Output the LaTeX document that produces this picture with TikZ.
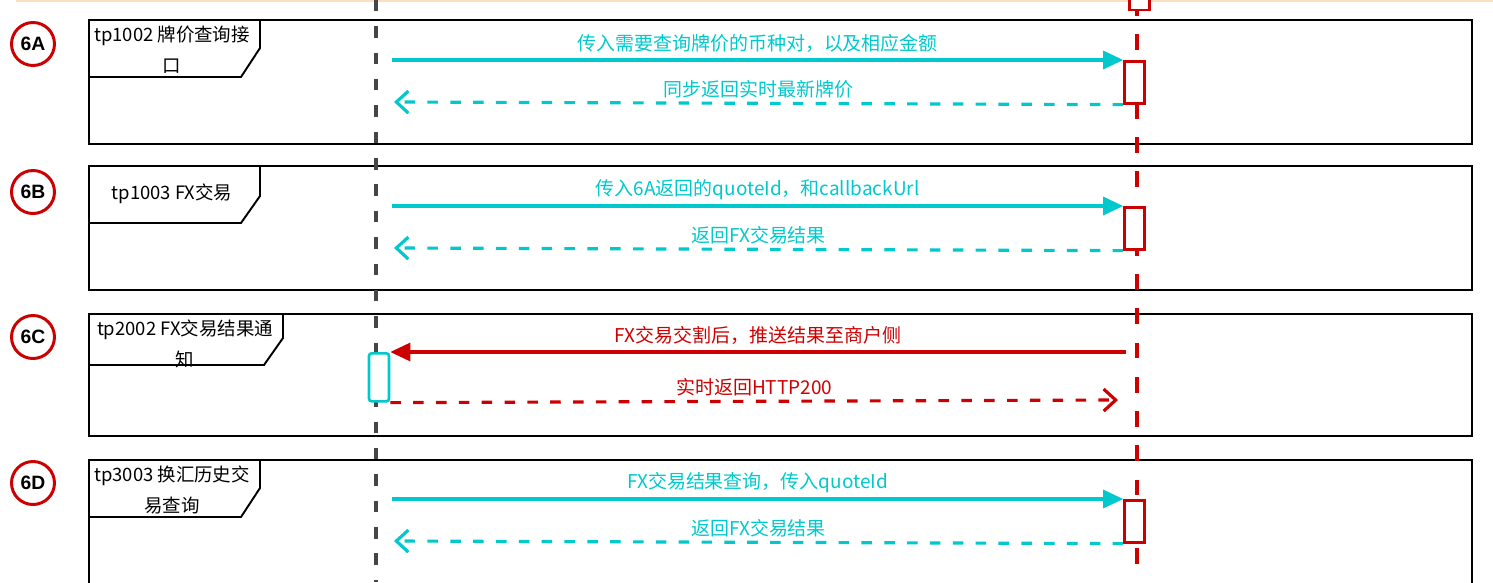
\documentclass[tikz,border=0pt]{standalone}
\usepackage{fontspec}
\setmainfont{Noto Sans CJK SC}
\newfontfamily\numfont{Liberation Sans}
\usetikzlibrary{arrows.meta}
\definecolor{tcyan}{RGB}{0,200,204}
\definecolor{tred}{RGB}{204,0,0}
\definecolor{tgray}{RGB}{70,70,70}
\definecolor{torange}{RGB}{252,222,192}

\begin{document}
\begin{tikzpicture}[x=0.02cm,y=-0.02cm]
%define
\tikzstyle{frame} = [draw=black, line width=1.1pt]
\tikzstyle{title} = [align=center, font=\fontsize{10.5}{17.5}\selectfont, inner sep=0pt]
\tikzstyle{badge} = [circle, draw=tred, line width=1.7pt, minimum size=0.86cm, inner sep=0pt, font=\numfont\bfseries\fontsize{11}{12}\selectfont]
\tikzstyle{actr} = [rectangle, draw=tred, fill=white, line width=1.5pt, minimum width=0.4cm, minimum height=0.84cm, inner sep=0pt]
\tikzstyle{actc} = [actr, draw=tcyan, rounded corners=1.5pt, minimum height=0.96cm]
\tikzstyle{arrow} = [-{Triangle[length=0.4cm,width=0.36cm]}, line width=1.8pt]
\tikzstyle{arrowx} = [-{Straight Barb[length=0.24cm,width=0.44cm]}, line width=1.8pt, dash pattern=on 6pt off 7pt]
\tikzstyle{msg} = [font=\fontsize{10.8}{12}\selectfont, inner sep=0pt, anchor=center, yshift=0.33cm]
\tikzstyle{msgx} = [msg, yshift=-0.04cm]

\clip (0,0) rectangle (1493,582);
\draw[torange, line width=1.2pt] (16,0.5) -- (1493,0.5);

%block1
\draw[frame] (89,20) rectangle (1472,144);
\draw[frame] (89,20) -- (260,20) -- (260,48) -- (241,77) -- (89,77);
\node[title] (t6a) at (172,50) {tp1002 牌价查询接\\口};
\node[badge] (b6a) at (33,44) {6A};
%block2
\draw[frame] (89,166) rectangle (1472,290);
\draw[frame] (89,166) -- (260,166) -- (260,196) -- (241,223) -- (89,223);
\node[title] (t6b) at (172,194) {tp1003 FX交易};
\node[badge] (b6b) at (33,192) {6B};
%block3
\draw[frame] (89,314) rectangle (1472,436);
\draw[frame] (89,314) -- (283,314) -- (283,338) -- (264,365) -- (89,365);
\node[title] (t6c) at (185,344) {tp2002 FX交易结果通\\知};
\node[badge] (b6c) at (33,337) {6C};
%block4
\draw[frame] (89,460) rectangle (1472,600);
\draw[frame] (89,460) -- (260,460) -- (260,488) -- (241,517) -- (89,517);
\node[title] (t6d) at (172,490) {tp3003 换汇历史交\\易查询};
\node[badge] (b6d) at (33,483) {6D};

%lifelines
\coordinate (mtop) at (376,0);
\coordinate (mbot) at (376,582);
\coordinate (ptop) at (1137,0);
\coordinate (pbot) at (1137,582);
\draw[tgray, line width=2pt, dash pattern=on 6.5pt off 8.5pt] (mtop) -- (mbot);
\draw[tred, line width=2.3pt, dash pattern=on 9pt off 10.5pt] (ptop) -- (pbot);

\node[actr] (a0) at (1139.5,-11) {};
\node[actr, anchor=north] (a6a) at (1134.5,60) {};
\node[actr, anchor=north] (a6b) at (1134.5,206) {};
\node[actc, anchor=north] (a6c) at (379,352) {};
\node[actr, anchor=north] (a6d) at (1134.5,499) {};

%line
\coordinate (s6a) at (392,60);
\coordinate (r6a) at (394,102);
\draw[arrow, tcyan] (s6a) -- (a6a.north west) node[msg, midway] {传入需要查询牌价的币种对，以及相应金额};
\draw[arrowx, tcyan] (a6a.south west) -- (r6a) node[msgx, midway] {同步返回实时最新牌价};

\coordinate (s6b) at (392,206);
\coordinate (r6b) at (394,248);
\draw[arrow, tcyan] (s6b) -- (a6b.north west) node[msg, midway] {传入6A返回的quoteId，和callbackUrl};
\draw[arrowx, tcyan] (a6b.south west) -- (r6b) node[msgx, midway] {返回FX交易结果};

\coordinate (s6c) at (1126,352);
\coordinate (r6c) at (1118,400);
\draw[arrow, tred] (s6c) -- (a6c.north east) node[msg, midway] {FX交易交割后，推送结果至商户侧};
\draw[arrowx, tred] (a6c.south east) -- (r6c) node[msgx, midway] {实时返回HTTP200};

\coordinate (s6d) at (392,499);
\coordinate (r6d) at (394,541);
\draw[arrow, tcyan] (s6d) -- (a6d.north west) node[msg, midway] {FX交易结果查询，传入quoteId};
\draw[arrowx, tcyan] (a6d.south west) -- (r6d) node[msgx, midway] {返回FX交易结果};

\end{tikzpicture}
\end{document}
